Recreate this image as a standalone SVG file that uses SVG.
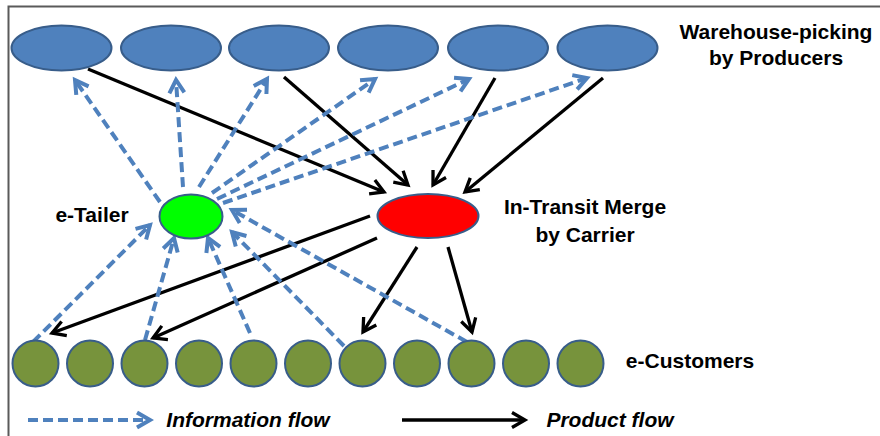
<svg xmlns="http://www.w3.org/2000/svg" width="880" height="436" viewBox="0 0 880 436">
<style>
.top{fill:#4F81BD;stroke:#385D8A;stroke-width:2}
.cust{fill:#77933C;stroke:#385D8A;stroke-width:2}
.prod{fill:none;stroke:#000;stroke-width:3.3;marker-end:url(#ab)}
.info{fill:none;stroke:#4F81BD;stroke-width:4;stroke-dasharray:10 5;marker-end:url(#ai)}
.lbl{font-family:"Liberation Sans",Arial,sans-serif;font-weight:bold;font-size:21px;fill:#000;text-anchor:middle}
.leg{font-style:italic}
</style>
<defs>
<marker id="ab" markerUnits="userSpaceOnUse" orient="auto" overflow="visible" markerWidth="1" markerHeight="1" refX="0" refY="0">
<path d="M-13,-7.5 L0,0 L-13,7.5" fill="none" stroke="#000" stroke-width="3.3"/>
</marker>
<marker id="ai" markerUnits="userSpaceOnUse" orient="auto" overflow="visible" markerWidth="1" markerHeight="1" refX="0" refY="0">
<path d="M-13,-7.5 L0,0 L-13,7.5" fill="none" stroke="#4F81BD" stroke-width="4"/>
</marker>
</defs>
<rect width="880" height="436" fill="#fff"/>
<path d="M8.5,436 V6.5 H880" fill="none" stroke="#5a5a5a" stroke-width="2"/>

<g id="connectors">
<line class="prod" x1="88" y1="69" x2="384" y2="192"/>
<line class="prod" x1="284" y1="77" x2="408" y2="185"/>
<line class="prod" x1="495" y1="78" x2="433" y2="185"/>
<line class="prod" x1="603" y1="78" x2="465" y2="192"/>
<line class="prod" x1="370" y1="216" x2="52" y2="333"/>
<line class="prod" x1="377" y1="238" x2="153" y2="338"/>
<line class="prod" x1="417" y1="247" x2="363" y2="332"/>
<line class="prod" x1="448" y1="247" x2="472" y2="332"/>
<line class="info" x1="160" y1="202" x2="75" y2="80"/>
<line class="info" x1="183" y1="187" x2="176" y2="80"/>
<line class="info" x1="199" y1="187" x2="267" y2="79"/>
<line class="info" x1="212" y1="193" x2="375" y2="79"/>
<line class="info" x1="217" y1="199" x2="469" y2="79"/>
<line class="info" x1="223" y1="203" x2="587" y2="78"/>
<line class="info" x1="33" y1="342" x2="150" y2="225"/>
<line class="info" x1="145" y1="340" x2="174" y2="238"/>
<line class="info" x1="250" y1="333" x2="208" y2="238"/>
<line class="info" x1="344" y1="346" x2="232" y2="232"/>
<line class="info" x1="467" y1="342" x2="232" y2="210"/>
</g>

<g id="producers">
<ellipse class="top" cx="61.5" cy="48" rx="50" ry="22.5"/>
<ellipse class="top" cx="171" cy="48" rx="50" ry="22.5"/>
<ellipse class="top" cx="279" cy="48" rx="50" ry="22.5"/>
<ellipse class="top" cx="388" cy="48" rx="50" ry="22.5"/>
<ellipse class="top" cx="498" cy="48" rx="50" ry="22.5"/>
<ellipse class="top" cx="607.5" cy="48" rx="50" ry="22.5"/>
<text class="lbl" x="776" y="39">Warehouse-picking</text>
<text class="lbl" x="776" y="65">by Producers</text>
</g>

<g id="etailer">
<ellipse cx="191" cy="216.5" rx="31.5" ry="22" fill="#00FF00" stroke="#385D8A" stroke-width="2"/>
<text class="lbl" x="92" y="222">e-Tailer</text>
</g>

<g id="carrier">
<ellipse cx="428" cy="216" rx="50.5" ry="22" fill="#FF0000" stroke="#385D8A" stroke-width="2"/>
<text class="lbl" x="585" y="214">In-Transit Merge</text>
<text class="lbl" x="585" y="242">by Carrier</text>
</g>

<g id="customers">
<circle class="cust" cx="35.5" cy="363.5" r="23"/>
<circle class="cust" cx="90" cy="363.5" r="23"/>
<circle class="cust" cx="144.5" cy="363.5" r="23"/>
<circle class="cust" cx="199" cy="363.5" r="23"/>
<circle class="cust" cx="253.5" cy="363.5" r="23"/>
<circle class="cust" cx="308" cy="363.5" r="23"/>
<circle class="cust" cx="362.5" cy="363.5" r="23"/>
<circle class="cust" cx="417" cy="363.5" r="23"/>
<circle class="cust" cx="471.5" cy="363.5" r="23"/>
<circle class="cust" cx="526" cy="363.5" r="23"/>
<circle class="cust" cx="580.5" cy="363.5" r="23"/>
<text class="lbl" x="690" y="368">e-Customers</text>
</g>

<g id="legend">
<line class="info" x1="28" y1="420" x2="150" y2="420"/>
<text class="lbl leg" x="248" y="427">Information flow</text>
<line class="prod" x1="402" y1="420" x2="525" y2="420"/>
<text class="lbl leg" x="610" y="427">Product flow</text>
</g>
</svg>
